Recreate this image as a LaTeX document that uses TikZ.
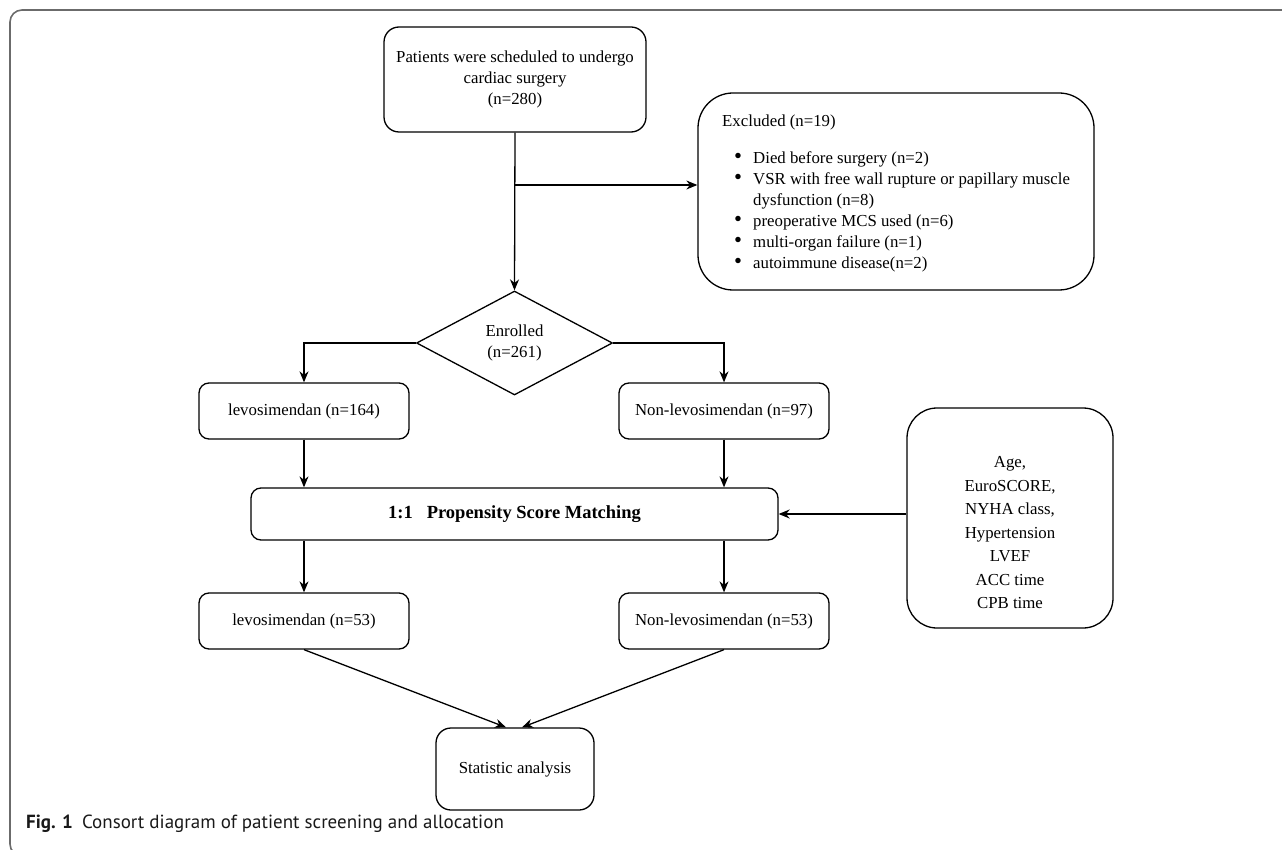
\documentclass[tikz,border=0pt]{standalone}
\usepackage{graphicx}
\usepackage{fontspec}
\setmainfont{Liberation Serif}
\newfontfamily\capfont{PT Sans}
\usetikzlibrary{arrows.meta,shapes.geometric}
\newcommand{\bigbul}{\raisebox{0.5pt}{\scalebox{1.35}{\textbullet}}}
\begin{document}
\begin{tikzpicture}[x=1pt,y=-1pt,
  txt/.style={font=\fontsize{16.8}{21}\selectfont},
  box/.style={draw, line width=1.3pt, rounded corners=#1, align=center, inner sep=0pt, txt},
  box/.default=10pt,
  arr/.style={line width=1.3pt, -{Stealth[length=11pt,width=9pt]}},
  frame/.style={draw=black!58, line width=1.6pt, rounded corners=12pt}
]
\useasboundingbox (0,0) rectangle (1282,850);
\draw[frame] (1300,10) -- (10,10) -- (10,856) -- (40,856);

\node[box=15pt, minimum width=262pt, minimum height=105pt] (top) at (515,79.5)
  {Patients were scheduled to undergo\\cardiac surgery\\(n=280)};

\node[box=35pt, minimum width=396pt, minimum height=197pt] (excl) at (896,191.5) {};
\node[txt, anchor=north west, inner sep=0pt] (excltext) at (722,112) {%
  \begin{tabular}{@{}p{31pt}@{}l@{}}
  \multicolumn{2}{@{}l@{}}{Excluded (n=19)}\\[16pt]
  \hspace*{12pt}\bigbul & Died before surgery (n=2)\\
  \hspace*{12pt}\bigbul & VSR with free wall rupture or papillary muscle\\
   & dysfunction (n=8)\\
  \hspace*{12pt}\bigbul & preoperative MCS used (n=6)\\
  \hspace*{12pt}\bigbul & multi-organ failure (n=1)\\
  \hspace*{12pt}\bigbul & autoimmune disease(n=2)
  \end{tabular}};

\node[draw, line width=1.3pt, diamond, aspect=1.885, inner sep=0pt,
  minimum width=196pt, minimum height=104pt, align=center, txt] (enr) at (514.5,343)
  {Enrolled\\(n=261)};

\node[box, minimum width=210pt, minimum height=56pt] (levoA) at (304,411) {levosimendan (n=164)};
\node[box, minimum width=210pt, minimum height=56pt] (nonA) at (724,411) {Non-levosimendan (n=97)};

\node[box, minimum width=527pt, minimum height=52pt, font=\fontsize{18.5}{21}\selectfont] (psm) at (514.5,514)
  {\textbf{1:1\hspace{14pt}Propensity Score Matching}};

\node[box=30pt, minimum width=206pt, minimum height=220pt] (vars) at (1010,518) {};
\node[txt, align=center, inner sep=0pt, font=\fontsize{16.8}{23.5}\selectfont] (varstext) at (1010,533)
  {Age,\\EuroSCORE,\\NYHA class,\\Hypertension\\LVEF\\ACC time\\CPB time};

\node[box, minimum width=210pt, minimum height=56pt] (levoB) at (304,621) {levosimendan (n=53)};
\node[box, minimum width=210pt, minimum height=56pt] (nonB) at (724,621) {Non-levosimendan (n=53)};

\node[box=15pt, minimum width=158pt, minimum height=82pt] (stat) at (515,769) {Statistic analysis};

\coordinate (br) at (515,185);
\draw[arr] (top.south) -- (enr.north);
\draw[arr] (br) -- (br -| excl.west);
\draw[arr] (enr.west) -| (levoA.north);
\draw[arr] (enr.east) -| (nonA.north);
\draw[arr] (levoA.south) -- (levoA.south |- psm.north);
\draw[arr] (nonA.south) -- (nonA.south |- psm.north);
\draw[arr] (levoB.north |- psm.south) -- (levoB.north);
\draw[arr] (nonB.north |- psm.south) -- (nonB.north);
\draw[arr] (vars.west |- psm.east) -- (psm.east);
\draw[arr] (levoB.south) -- ([xshift=-9pt]stat.north);
\draw[arr] (nonB.south) -- ([xshift=7pt]stat.north);

\node[anchor=west, inner sep=0pt, font=\capfont\fontsize{19}{21}\selectfont, text=black!90] (cap) at (26,824)
  {\textbf{Fig. 1}\hspace{9pt}Consort diagram of patient screening and allocation};
\end{tikzpicture}
\end{document}
